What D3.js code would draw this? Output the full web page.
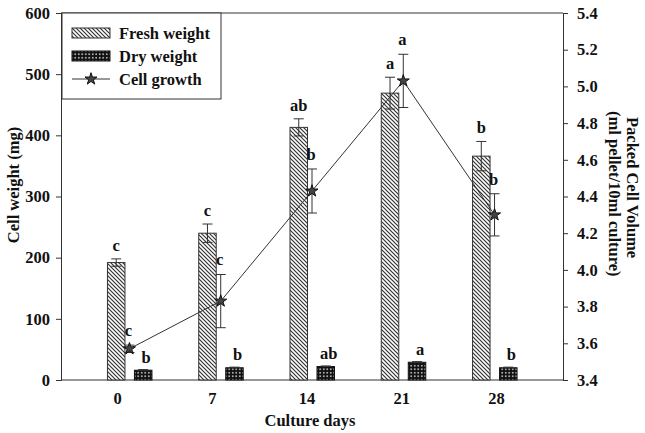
<!DOCTYPE html>
<html><head><meta charset="utf-8">
<script src="https://cdn.jsdelivr.net/npm/d3@7"></script>
<style>body{margin:0;background:#fff}svg{display:block}text{font-family:"Liberation Serif","Times New Roman",serif;font-weight:bold;fill:#111}</style>
</head><body>
<svg id="c" width="645" height="433"></svg>
<script>
const days = ["0","7","14","21","28"];
const fresh = [192, 240, 413, 469, 366];
const freshErr = [6, 15, 14, 26, 24];
const dry = [16, 20, 22, 29, 20];
const dryErr = [1, 1, 1, 1, 1];
const pcv = [3.57, 3.83, 4.43, 5.03, 4.30];
const pcvErr = [0.02, 0.145, 0.12, 0.145, 0.115];
const freshLetters = ["c","c","ab","a","b"];
const dryLetters = ["b","b","ab","a","b"];
const pcvLetters = ["c","c","b","a","b"];
const leftTicks = [0,100,200,300,400,500,600];
const rightTicks = [3.4,3.6,3.8,4.0,4.2,4.4,4.6,4.8,5.0,5.2,5.4];

const L=61,R=563,T=13,B=380;
const svg=d3.select("#c");
const defs=svg.append("defs");
const hp=defs.append("pattern").attr("id","hatch").attr("patternUnits","userSpaceOnUse").attr("width",4).attr("height",4);
hp.append("rect").attr("width",4).attr("height",4).attr("fill","#fff");
hp.append("path").attr("d","M0,0L4,4M-1,3L1,5M3,-1L5,1").attr("stroke","#333").attr("stroke-width",1.2);
const dp=defs.append("pattern").attr("id","dots").attr("patternUnits","userSpaceOnUse").attr("width",3.5).attr("height",3.5);
dp.append("rect").attr("width",3.5).attr("height",3.5).attr("fill","#111");
dp.append("circle").attr("cx",1.75).attr("cy",1.75).attr("r",0.85).attr("fill","#e0e0e0");

const xb=d3.scaleBand().domain(days).range([L,R]).paddingInner(0).paddingOuter(0.25);
const xc=d=>xb(d)+xb.bandwidth()/2;
const xl=d3.scalePoint().domain(days).range([117,496]);
const y=d3.scaleLinear().domain([0,600]).range([B,T]);
const y2=d3.scaleLinear().domain([3.4,5.4]).range([B,T]);
const bw=17.5, gap=4.5;
const col="#333";

svg.append("line").attr("x1",L).attr("x2",R).attr("y1",T).attr("y2",T).attr("stroke",col);
const ya=svg.append("g").attr("transform",`translate(${L},0)`).call(d3.axisLeft(y).tickValues(leftTicks).tickSize(5).tickPadding(6));
const ya2=svg.append("g").attr("transform",`translate(${R},0)`).call(d3.axisRight(y2).tickValues(rightTicks).tickFormat(d3.format(".1f")).tickSize(5).tickPadding(9));
const xa=svg.append("g").attr("transform",`translate(0,${B})`).call(d3.axisBottom(xl).tickSize(0).tickPadding(12));
xa.select(".domain").attr("d",`M${L},0H${R}`);
[ya,ya2,xa].forEach(g=>{g.selectAll("path,line").attr("stroke",col);g.selectAll("text").style("font-size","16.5px").style("font-family","Liberation Serif").style("font-weight","bold").attr("fill","#111");});

const idx=d3.range(days.length);
svg.selectAll(".fb").data(idx).join("rect").attr("x",i=>xc(days[i])-gap-bw).attr("width",bw)
 .attr("y",i=>y(fresh[i])).attr("height",i=>B-y(fresh[i])).attr("fill","url(#hatch)").attr("stroke",col).attr("stroke-width",1);
svg.selectAll(".db").data(idx).join("rect").attr("x",i=>xc(days[i])+gap+0.5).attr("width",bw)
 .attr("y",i=>y(dry[i])).attr("height",i=>B-y(dry[i])).attr("fill","url(#dots)").attr("stroke","#111").attr("stroke-width",1);

function errbar(cx,top,bot){
  const g=svg.append("g").attr("stroke",col).attr("stroke-width",1);
  g.append("line").attr("x1",cx).attr("x2",cx).attr("y1",top).attr("y2",bot);
  g.append("line").attr("x1",cx-5).attr("x2",cx+5).attr("y1",top).attr("y2",top);
  g.append("line").attr("x1",cx-5).attr("x2",cx+5).attr("y1",bot).attr("y2",bot);
}
idx.forEach(i=>{
  const fx=xc(days[i])-gap-bw/2;
  errbar(fx,y(fresh[i]+freshErr[i]),y(fresh[i]-freshErr[i]));
  svg.append("text").attr("x",fx).attr("y",y(fresh[i]+freshErr[i])-8).attr("text-anchor","middle").style("font-size","16.5px").text(freshLetters[i]);
  const dx=xc(days[i])+gap+0.5+bw/2;
  errbar(dx,y(dry[i]+dryErr[i]),y(dry[i]));
  svg.append("text").attr("x",dx+3).attr("y",y(dry[i]+dryErr[i])-7).attr("text-anchor","middle").style("font-size","16.5px").text(dryLetters[i]);
});

const line=d3.line().x((d,i)=>xc(days[i])).y(d=>y2(d));
svg.append("path").attr("d",line(pcv)).attr("fill","none").attr("stroke",col).attr("stroke-width",1);
const star=d3.symbol().type(d3.symbolStar).size(45);
idx.forEach(i=>{
  const cx=xc(days[i]);
  errbar(cx,y2(pcv[i]+pcvErr[i]),y2(pcv[i]-pcvErr[i]));
  svg.append("path").attr("d",star()).attr("transform",`translate(${cx},${y2(pcv[i])})`).attr("fill","#444").attr("stroke","#111").attr("stroke-width",1);
  svg.append("text").attr("x",cx-1).attr("y",y2(pcv[i]+pcvErr[i])-9).attr("text-anchor","middle").style("font-size","16.5px").text(pcvLetters[i]);
});

const lg=svg.append("g");
lg.append("rect").attr("x",L+1).attr("y",T).attr("width",159).attr("height",86).attr("fill","#fff").attr("stroke",col);
lg.append("rect").attr("x",72).attr("y",28).attr("width",38).attr("height",10).attr("fill","url(#hatch)").attr("stroke",col);
lg.append("rect").attr("x",72).attr("y",51).attr("width",38).attr("height",10).attr("fill","url(#dots)").attr("stroke","#111");
lg.append("line").attr("x1",72).attr("x2",110).attr("y1",79).attr("y2",79).attr("stroke",col);
lg.append("path").attr("d",star()).attr("transform","translate(91,79)").attr("fill","#444").attr("stroke","#111");
[["Fresh weight",39],["Dry weight",62],["Cell growth",85]].forEach(([t,yy])=>lg.append("text").attr("x",119).attr("y",yy).style("font-size","16.5px").text(t));

svg.append("text").attr("x",(L+R)/2-2).attr("y",426).attr("text-anchor","middle").style("font-size","16.5px").text("Culture days");
svg.append("text").attr("transform","translate(19,185) rotate(-90)").attr("text-anchor","middle").style("font-size","16.5px").text("Cell weight (mg)");
svg.append("text").attr("transform","translate(627,117) rotate(90)").attr("text-anchor","start").style("font-size","16.5px").text("Packed Cell Volume");
svg.append("text").attr("transform","translate(609,111) rotate(90)").attr("text-anchor","start").style("font-size","16.5px").text("(ml pellet/10ml culture)");
</script>
</body></html>
